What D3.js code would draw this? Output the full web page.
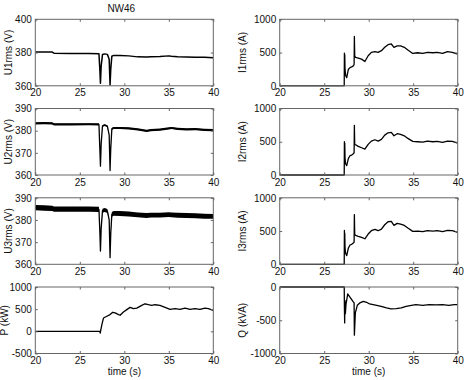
<!DOCTYPE html>
<html>
<head>
<meta charset="utf-8">
<script src="https://cdn.jsdelivr.net/npm/d3@7"></script>
<style>
  html, body { margin: 0; padding: 0; background: #fff; }
  svg { display: block; }
  text { font-family: "Liberation Sans", Arial, sans-serif; fill: #111; }
</style>
</head>
<body>
<script>
// ---------- DATA ----------
const xTicks = [20, 25, 30, 35, 40];
const title = "NW46";
const xLabel = "time (s)";

// Voltages
const uTime = [20, 21, 21.9, 22.1, 24, 26, 27.15, 27.25, 27.32, 27.4, 27.55, 27.8, 28.1, 28.3, 28.4, 28.48, 28.6, 28.8, 29.5, 30.5, 31.5, 32.5, 33, 34, 35, 35.3, 36, 37, 38, 39, 40];
const u1 = [380.3, 380.4, 380.3, 379.6, 379.5, 379.4, 379.3, 370, 361.5, 372, 378.8, 379.2, 378.9, 376, 360.5, 370, 377.8, 378.3, 378.2, 378.0, 377.4, 377.3, 377.4, 377.6, 378.0, 377.8, 377.5, 377.3, 377.2, 377.1, 376.9];
const u2 = [383.3, 383.4, 383.3, 382.8, 382.8, 382.9, 382.8, 372, 364, 374, 382.2, 382.5, 382.0, 378, 362, 372, 380.8, 381.2, 381.2, 381.0, 380.6, 379.9, 380.2, 380.5, 381.0, 381.2, 380.8, 380.6, 380.7, 380.4, 380.2];
const u2Spread = [0.5, 0.5, 0.5, 0.5, 0.5, 0.5, 0.5, 0.1, 0.1, 0.1, 0.4, 0.4, 0.4, 0.1, 0.1, 0.1, 0.5, 0.5, 0.5, 0.5, 0.5, 0.5, 0.5, 0.5, 0.5, 0.5, 0.5, 0.5, 0.5, 0.5, 0.5];
const u3 = [385.6, 385.4, 385.2, 384.9, 384.9, 384.9, 384.8, 375, 366, 376, 384.2, 384.5, 384.0, 380, 363, 374, 382.5, 383.0, 382.9, 382.7, 382.3, 382.0, 382.2, 382.2, 382.4, 382.3, 382.1, 382.0, 381.9, 381.7, 381.6];
const u3Spread = [1.2, 1.2, 1.2, 1.2, 1.2, 1.2, 1.2, 0.2, 0.2, 0.2, 0.9, 0.9, 0.9, 0.2, 0.2, 0.2, 1.1, 1.1, 1.1, 1.1, 1.1, 1.1, 1.1, 1.1, 1.1, 1.1, 1.1, 1.1, 1.1, 1.1, 1.1];

// Currents
const iTime = [20, 27.25, 27.27, 27.29, 27.31, 27.34, 27.4, 27.53, 27.72, 27.9, 28.09, 28.27, 28.36, 28.39, 28.43, 28.53, 28.83, 29.2, 29.57, 29.94, 30.3, 30.7, 31.06, 31.43, 31.8, 32.17, 32.54, 32.84, 33.2, 33.58, 34.0, 34.4, 34.95, 35.5, 36.07, 36.6, 37.2, 37.7, 38.3, 38.85, 39.4, 40];
const i1 = [0, 0, 490, 200, 470, 250, 160, 122, 249, 274, 284, 300, 320, 741, 450, 426, 416, 401, 365, 452, 503, 513, 503, 528, 579, 619, 629, 579, 599, 599, 579, 538, 487, 497, 487, 503, 497, 503, 487, 513, 503, 477];
const i2 = [0, 0, 500, 210, 480, 260, 170, 140, 250, 290, 300, 320, 335, 747, 460, 455, 430, 410, 389, 460, 510, 530, 510, 535, 600, 635, 641, 590, 621, 610, 590, 550, 505, 500, 495, 510, 500, 505, 490, 510, 505, 480];
const i3 = [0, 0, 510, 200, 470, 250, 165, 131, 245, 290, 300, 320, 330, 747, 450, 434, 420, 405, 384, 455, 505, 525, 505, 530, 595, 640, 646, 585, 615, 605, 585, 545, 495, 500, 490, 505, 500, 505, 490, 510, 505, 480];

// Powers
const pTime = [20, 27.25, 27.3, 27.35, 27.48, 27.66, 28.04, 28.4, 28.7, 28.97, 29.35, 29.53, 29.9, 30.28, 30.65, 31.03, 31.4, 31.96, 32.33, 32.7, 33.08, 33.46, 34.0, 34.58, 35.14, 35.7, 36.26, 36.82, 37.38, 37.94, 38.5, 39.07, 39.44, 40];
const p = [0, 0, -40, 20, 150, 300, 340, 378, 430, 415, 378, 363, 437, 490, 540, 510, 525, 585, 622, 600, 585, 600, 585, 540, 495, 510, 495, 525, 495, 510, 495, 525, 510, 475];
const qTime = [20, 27.25, 27.27, 27.3, 27.33, 27.38, 27.45, 27.64, 27.83, 28.09, 28.27, 28.36, 28.39, 28.43, 28.5, 28.72, 29.0, 29.4, 29.76, 30.1, 30.5, 30.9, 31.4, 32.0, 32.5, 33.1, 33.65, 34.2, 34.8, 35.3, 36.07, 36.8, 37.55, 38.3, 39.0, 39.6, 40];
const q = [0, 0, -300, -540, -200, -400, -260, -105, -140, -190, -225, -240, -725, -600, -390, -275, -240, -215, -230, -255, -265, -275, -290, -315, -330, -325, -315, -290, -275, -265, -275, -265, -270, -265, -275, -265, -265];

// Panel definitions
const uTicks1 = [360, 380, 400];
const uTicks2 = [360, 370, 380, 390];
const iTicks = [0, 500, 1000];
const pTicks = [-500, 0, 500, 1000];
const qTicks = [-1000, -500, 0];

const panels = [
  { col: 0, row: 0, label: "U1rms (V)", domain: [360, 400], ticks: uTicks1, t: uTime, v: u1, spread: null, width: 1.5 },
  { col: 1, row: 0, label: "I1rms (A)", domain: [0, 1000], ticks: iTicks, t: iTime, v: i1, spread: null, width: 1.3 },
  { col: 0, row: 1, label: "U2rms (V)", domain: [360, 390], ticks: uTicks2, t: uTime, v: u2, spread: u2Spread, width: 1.3 },
  { col: 1, row: 1, label: "I2rms (A)", domain: [0, 1000], ticks: iTicks, t: iTime, v: i2, spread: null, width: 1.3 },
  { col: 0, row: 2, label: "U3rms (V)", domain: [360, 390], ticks: uTicks2, t: uTime, v: u3, spread: u3Spread, width: 1.3 },
  { col: 1, row: 2, label: "I3rms (A)", domain: [0, 1000], ticks: iTicks, t: iTime, v: i3, spread: null, width: 1.3 },
  { col: 0, row: 3, label: "P (kW)", domain: [-500, 1000], ticks: pTicks, t: pTime, v: p, spread: null, width: 1.3 },
  { col: 1, row: 3, label: "Q (kVA)", domain: [-1000, 0], ticks: qTicks, t: qTime, v: q, spread: null, width: 1.3 }
];

// ---------- LAYOUT ----------
const W = 468, H = 380;
const colX = [35.3, 279.7];
const colW = 178;
const rowY = [19.3, 108.5, 197.8, 287];
const rowH = 66.5;
const labelX = [[8.5, 8.5, 8.5, 4], [242, 242, 242, 242]];

const svg = d3.select("body").append("svg").attr("width", W).attr("height", H);

panels.forEach(pn => {
  const x0 = colX[pn.col], y0 = rowY[pn.row];
  const g = svg.append("g").attr("transform", `translate(${x0},${y0})`);
  const x = d3.scaleLinear().domain([20, 40]).range([0, colW]);
  const y = d3.scaleLinear().domain(pn.domain).range([rowH, 0]);

  const clipId = `clip${pn.col}${pn.row}`;
  g.append("clipPath").attr("id", clipId).append("rect")
    .attr("x", 0).attr("y", -1).attr("width", colW).attr("height", rowH + 2);

  const pts = pn.t.map((t, i) => ({ t, v: pn.v[i], s: pn.spread ? pn.spread[i] : 0 }));
  const plot = g.append("g").attr("clip-path", `url(#${clipId})`);
  if (pn.spread) {
    plot.append("path").datum(pts)
      .attr("fill", "#000")
      .attr("d", d3.area().x(d => x(d.t)).y0(d => y(d.v - d.s)).y1(d => y(d.v + d.s)));
  }
  plot.append("path").datum(pts)
    .attr("fill", "none").attr("stroke", "#000").attr("stroke-width", pn.width)
    .attr("stroke-linejoin", "round")
    .attr("d", d3.line().x(d => x(d.t)).y(d => y(d.v)));

  // axes (MATLAB style: box, ticks inside)
  const styleAxis = sel => {
    sel.select(".domain").remove();
    sel.selectAll(".tick line").attr("stroke", "#666");
    sel.selectAll(".tick text").attr("font-size", 10).attr("fill", "#111")
      .style("font-family", '"Liberation Sans", Arial, sans-serif');
  };
  g.append("g").attr("transform", `translate(0,${rowH})`)
    .call(d3.axisBottom(x).tickValues(xTicks).tickSizeInner(-2.5).tickSizeOuter(0).tickPadding(3.5).tickFormat(d3.format("d")))
    .call(styleAxis);
  g.append("g")
    .call(d3.axisTop(x).tickValues(xTicks).tickSizeInner(-2.5).tickSizeOuter(0).tickFormat(""))
    .call(styleAxis);
  g.append("g")
    .call(d3.axisLeft(y).tickValues(pn.ticks).tickSizeInner(-2.5).tickSizeOuter(0).tickPadding(3.5).tickFormat(d => String(d)))
    .call(styleAxis);
  g.append("g").attr("transform", `translate(${colW},0)`)
    .call(d3.axisRight(y).tickValues(pn.ticks).tickSizeInner(-2.5).tickSizeOuter(0).tickFormat(""))
    .call(styleAxis);

  g.append("rect").attr("x", 0).attr("y", 0).attr("width", colW).attr("height", rowH)
    .attr("fill", "none").attr("stroke", "#666").attr("stroke-width", 1);

  // y label
  const lx = labelX[pn.col][pn.row];
  svg.append("text")
    .attr("transform", `translate(${lx},${y0 + rowH / 2}) rotate(-90)`)
    .attr("text-anchor", "middle").attr("dy", "0.35em")
    .attr("font-size", 10)
    .text(pn.label);
});

// title
svg.append("text").attr("x", colX[0] + colW / 2 - 3).attr("y", 12)
  .attr("text-anchor", "middle").attr("font-size", 10).text(title);

// x labels
[0, 1].forEach(c => {
  svg.append("text").attr("x", colX[c] + colW / 2).attr("y", 375)
    .attr("text-anchor", "middle").attr("font-size", 10).text(xLabel);
});
</script>
</body>
</html>
